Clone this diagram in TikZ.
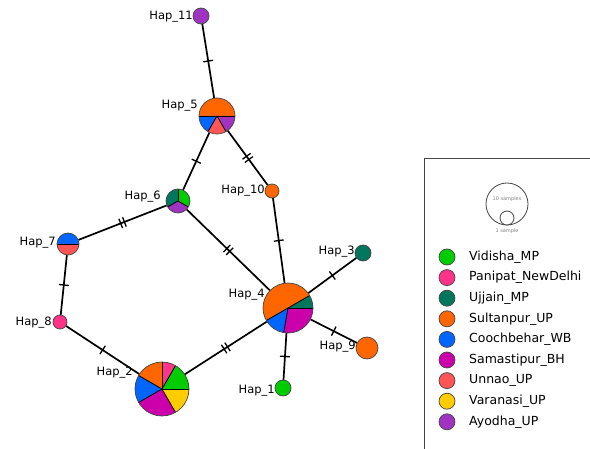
\documentclass[tikz,border=0pt]{standalone}
\usepackage{fontspec}
\setmainfont{DejaVu Sans}
\usetikzlibrary{decorations.markings}
\definecolor{cVid}{HTML}{00CC00}
\definecolor{cPan}{HTML}{FF3388}
\definecolor{cUjj}{HTML}{00775C}
\definecolor{cSul}{HTML}{FF6600}
\definecolor{cCoo}{HTML}{0066FF}
\definecolor{cSam}{HTML}{CC00AA}
\definecolor{cUnn}{HTML}{FF5555}
\definecolor{cVar}{HTML}{FFCC00}
\definecolor{cAyo}{HTML}{A033C0}
\definecolor{rim}{HTML}{444444}
\newcommand\pieslice[5]{%
  \fill[#5] (#1.center) -- ++(#3:#2pt) arc[start angle=#3, end angle=#4, radius=#2pt] -- cycle;}
\newcommand\pieline[3]{\draw[black, line width=0.8pt] (#1.center) -- ++(#3:#2pt);}
\newcommand\pierim[2]{\draw[rim, line width=0.7pt] (#1.center) circle[radius=#2pt];}
\tikzset{
  hap/.style={circle, inner sep=0pt, minimum size=#1},
  lbl/.style={anchor=east, inner sep=0pt, font=\fontsize{11.5}{13}\selectfont},
  edge/.style={line width=1.7pt, black},
  tickone/.style={postaction={decorate, decoration={markings,
      mark=at position 0.5 with {\draw[line width=1.3pt] (0,-5pt) -- (0,5pt);}}}},
  ticktwo/.style={postaction={decorate, decoration={markings,
      mark=at position 0.5 with {\draw[line width=1.3pt] (-2pt,-5pt) -- (-2pt,5pt) (2pt,-5pt) -- (2pt,5pt);}}}},
  legdot/.style={circle, inner sep=0pt, minimum size=16pt, draw=rim, line width=0.7pt},
  legtxt/.style={anchor=west, inner sep=0pt, font=\fontsize{12.5}{14}\selectfont},
}
\begin{document}
\begin{tikzpicture}[x=1pt, y=1pt]
\useasboundingbox (0,0) rectangle (590,448);
\clip (0,0) rectangle (590,448);
% haplotype nodes
\node[hap=16pt] (h11) at (201,432) {};
\node[hap=36pt] (h5) at (217,332) {};
\node[hap=24pt] (h6) at (178,247) {};
\node[hap=14pt] (h10) at (272,257) {};
\node[hap=22pt] (h7) at (68,204) {};
\node[hap=14pt] (h8) at (60,126) {};
\node[hap=50pt] (h4) at (288,140) {};
\node[hap=16pt] (h3) at (363,195) {};
\node[hap=22pt] (h9) at (367,100) {};
\node[hap=16pt] (h1) at (283,60) {};
\node[hap=54pt] (h2) at (162,59) {};
% edges
\draw[edge, tickone] (h11) -- (h5);
\draw[edge, tickone] (h5) -- (h6);
\draw[edge, ticktwo] (h5) -- (h10);
\draw[edge, ticktwo] (h6) -- (h7);
\draw[edge, ticktwo] (h6) -- (h4);
\draw[edge, tickone] (h10) -- (h4);
\draw[edge, tickone] (h7) -- (h8);
\draw[edge, tickone] (h8) -- (h2);
\draw[edge, ticktwo] (h2) -- (h4);
\draw[edge, tickone] (h4) -- (h3);
\draw[edge, tickone] (h4) -- (h9);
\draw[edge, tickone] (h4) -- (h1);
% pies
\pieslice{h11}{8}{0}{360}{cAyo}\pierim{h11}{8}
\pieslice{h5}{18}{0}{180}{cSul}\pieslice{h5}{18}{180}{240}{cCoo}
\pieslice{h5}{18}{240}{300}{cUnn}\pieslice{h5}{18}{300}{360}{cAyo}
\pieline{h5}{18}{0}\pieline{h5}{18}{180}\pieline{h5}{18}{240}\pieline{h5}{18}{300}\pierim{h5}{18}
\pieslice{h6}{12}{90}{210}{cUjj}\pieslice{h6}{12}{210}{330}{cAyo}\pieslice{h6}{12}{-30}{90}{cVid}
\pieline{h6}{12}{90}\pieline{h6}{12}{210}\pieline{h6}{12}{-30}\pierim{h6}{12}
\pieslice{h10}{7}{0}{360}{cSul}\pierim{h10}{7}
\pieslice{h7}{11}{0}{180}{cCoo}\pieslice{h7}{11}{180}{360}{cUnn}
\pieline{h7}{11}{0}\pieline{h7}{11}{180}\pierim{h7}{11}
\pieslice{h8}{7}{0}{360}{cPan}\pierim{h8}{7}
\pieslice{h4}{25}{30}{210}{cSul}\pieslice{h4}{25}{210}{260}{cCoo}
\pieslice{h4}{25}{260}{360}{cSam}\pieslice{h4}{25}{0}{30}{cUjj}
\pieline{h4}{25}{30}\pieline{h4}{25}{210}\pieline{h4}{25}{260}\pieline{h4}{25}{0}\pierim{h4}{25}
\pieslice{h3}{8}{0}{360}{cUjj}\pierim{h3}{8}
\pieslice{h9}{11}{0}{360}{cSul}\pierim{h9}{11}
\pieslice{h1}{8}{0}{360}{cVid}\pierim{h1}{8}
\pieslice{h2}{27}{90}{150}{cSul}\pieslice{h2}{27}{150}{210}{cCoo}
\pieslice{h2}{27}{210}{300}{cSam}\pieslice{h2}{27}{300}{360}{cVar}
\pieslice{h2}{27}{0}{60}{cVid}\pieslice{h2}{27}{60}{90}{cPan}
\pieline{h2}{27}{90}\pieline{h2}{27}{150}\pieline{h2}{27}{210}\pieline{h2}{27}{300}
\pieline{h2}{27}{0}\pieline{h2}{27}{60}\pierim{h2}{27}
% labels
\node[lbl] (l11) at (193,431) {Hap\_11};
\node[lbl] (l5) at (198,342) {Hap\_5};
\node[lbl] (l6) at (161,251) {Hap\_6};
\node[lbl] (l10) at (265,257) {Hap\_10};
\node[lbl] (l7) at (56,205) {Hap\_7};
\node[lbl] (l8) at (52,125) {Hap\_8};
\node[lbl] (l4) at (265,153) {Hap\_4};
\node[lbl] (l3) at (355,196) {Hap\_3};
\node[lbl] (l9) at (356,101) {Hap\_9};
\node[lbl] (l1) at (275,57) {Hap\_1};
\node[lbl] (l2) at (133,75) {Hap\_2};
% legend
\draw[rim, line width=1pt] (424,-10) -- (424,289) -- (600,289);
\node[circle, draw=rim, line width=0.8pt, minimum size=42pt, inner sep=0pt] (big) at (507,244) {};
\node[circle, draw=rim, fill=white, line width=0.8pt, minimum size=14pt, inner sep=0pt] (small) at (507,230) {};
\node[text=gray, font=\fontsize{5}{6}\selectfont, inner sep=0pt] (t10) at (507,249) {10 samples};
\node[text=gray, font=\fontsize{5}{6}\selectfont, inner sep=0pt] (t1) at (507,217) {1 sample};
\foreach \c/\t [count=\i from 0] in {cVid/Vidisha\_MP, cPan/Panipat\_NewDelhi, cUjj/Ujjain\_MP,
  cSul/Sultanpur\_UP, cCoo/Coochbehar\_WB, cSam/Samastipur\_BH, cUnn/Unnao\_UP,
  cVar/Varanasi\_UP, cAyo/Ayodha\_UP}{
  \node[legdot, fill=\c] (d\i) at (447,{191-20.6*\i}) {};
  \node[legtxt] (e\i) at (469,{191-20.6*\i}) {\t};
}
\end{tikzpicture}
\end{document}
